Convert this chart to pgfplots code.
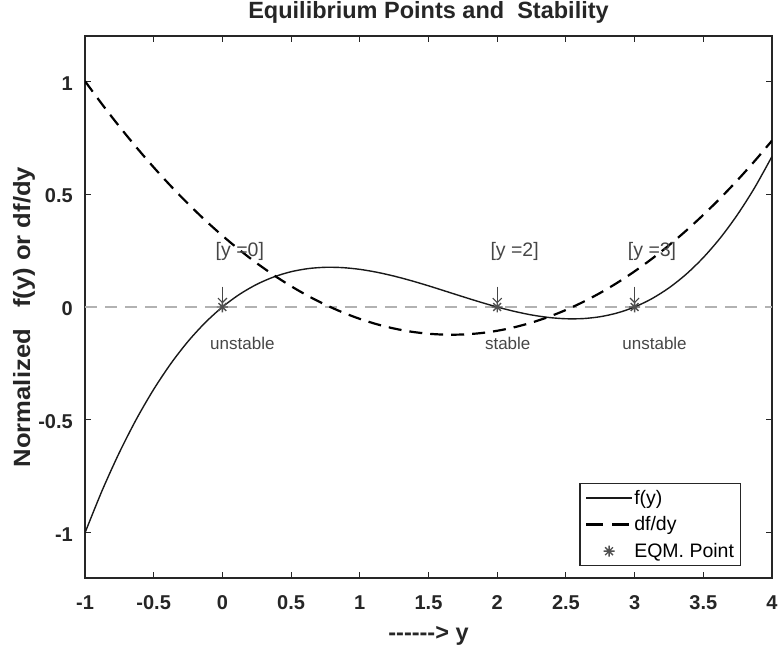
\documentclass[border=0pt]{standalone}
\usepackage{fontspec}
\setmainfont{Liberation Sans}
\usepackage{graphicx}
\usepackage{pgfplots}
\pgfplotsset{compat=1.18}
\usetikzlibrary{arrows.meta}
\definecolor{axgray}{RGB}{38,38,38}
\definecolor{zerogray}{RGB}{178,178,178}
\definecolor{mkgray}{RGB}{80,80,80}
\definecolor{txtgray}{RGB}{70,70,70}
\definecolor{fcol}{RGB}{25,25,25}
\newcommand\hy{\mbox{-}}
\pgfdeclareplotmark{ast8}{%
  \pgfpathmoveto{\pgfpoint{-\pgfplotmarksize}{0pt}}\pgfpathlineto{\pgfpoint{\pgfplotmarksize}{0pt}}%
  \pgfpathmoveto{\pgfpoint{0pt}{-\pgfplotmarksize}}\pgfpathlineto{\pgfpoint{0pt}{\pgfplotmarksize}}%
  \pgfpathmoveto{\pgfpoint{-0.707\pgfplotmarksize}{-0.707\pgfplotmarksize}}\pgfpathlineto{\pgfpoint{0.707\pgfplotmarksize}{0.707\pgfplotmarksize}}%
  \pgfpathmoveto{\pgfpoint{-0.707\pgfplotmarksize}{0.707\pgfplotmarksize}}\pgfpathlineto{\pgfpoint{0.707\pgfplotmarksize}{-0.707\pgfplotmarksize}}%
  \pgfusepathqstroke}
\pgfplotsset{dashleg/.style={legend image code/.code={\draw[##1, dash pattern=on 17bp off 9bp] (0bp,0bp) -- (43bp,0bp);}}}
\begin{document}
\begin{tikzpicture}
\path[use as bounding box] (0,0) rectangle (780bp,650bp);
\begin{axis}[
  at={(85bp,72bp)}, anchor=south west,
  width=687bp, height=542bp, scale only axis,
  xmin=-1, xmax=4, ymin=-1.2, ymax=1.2,
  xtick={-1,-0.5,0,0.5,1,1.5,2,2.5,3,3.5,4},
  xticklabels={-1,-0.5,0,0.5,1,1.5,2,2.5,3,3.5,4},
  ytick={-1,-0.5,0,0.5,1},
  yticklabels={-1,-0.5,0,0.5,1},
  tick pos=both, tick align=inside,
  major tick length=6bp,
  tick style={axgray, line width=1bp},
  axis line style={axgray, line width=1.2bp},
  xticklabel style={anchor=base, inner sep=0pt, yshift=-31bp, font=\fontsize{20bp}{24bp}\selectfont\bfseries, text=axgray},
  yticklabel style={anchor=east, inner sep=0pt, xshift=-12bp, yshift=-2bp, font=\fontsize{20bp}{24bp}\selectfont\bfseries, text=axgray},
  title={Equilibrium Points and\ \ Stability},
  title style={at={(0.5,1)}, anchor=base, yshift=12bp, font=\fontsize{23.5bp}{28bp}\selectfont\bfseries, text=axgray},
  xlabel={\hy\hy\hy\hy\hy\hy> y},
  xlabel style={at={(axis description cs:0.5,0)}, anchor=base, yshift=-62bp, font=\fontsize{23.5bp}{28bp}\selectfont\bfseries, text=axgray},
  ylabel={\scalebox{1.09}[1]{Normalized\ \ \ f(y) or df/dy}},
  ylabel style={at={(axis description cs:-0.0888,0.4815)}, anchor=center, font=\fontsize{23.5bp}{28bp}\selectfont\bfseries, text=axgray},
  legend style={at={(0.955,0.022)}, anchor=south east, draw=axgray, line width=1.2bp, fill=white,
    font=\fontsize{19.5bp}{23bp}\selectfont, text=black, cells={anchor=west},
    inner xsep=5bp, inner ysep=4bp, row sep=6bp, nodes={inner xsep=1.5bp, inner ysep=2.5bp}},
  legend image code/.code={\draw[mark repeat=2,mark phase=2,#1] plot coordinates {(0bp,0bp) (23bp,0bp) (46bp,0bp)};},
]
\addplot[forget plot, zerogray, line width=1.3bp, dash pattern=on 12bp off 8bp] coordinates {(-1,0) (4,0)};
\addplot[fcol, line width=1.4bp, smooth] coordinates {
(-1,-1.0000) (-0.875,-0.8123) (-0.75,-0.6445) (-0.625,-0.4956) (-0.5,-0.3646) (-0.375,-0.2505)
(-0.25,-0.1523) (-0.125,-0.0692) (0,0) (0.125,0.0562) (0.25,0.1003) (0.375,0.1333)
(0.5,0.1563) (0.625,0.1701) (0.75,0.1758) (0.875,0.1743) (1,0.1667) (1.125,0.1538)
(1.25,0.1367) (1.375,0.1164) (1.5,0.0938) (1.625,0.0698) (1.75,0.0456) (1.875,0.0220)
(2,0) (2.125,-0.0194) (2.25,-0.0352) (2.375,-0.0464) (2.5,-0.0521) (2.625,-0.0513)
(2.75,-0.0430) (2.875,-0.0262) (3,0) (3.125,0.0366) (3.25,0.0846) (3.375,0.1450)
(3.5,0.2188) (3.625,0.3068) (3.75,0.4102) (3.875,0.5298) (4,0.6667)};
\addlegendentry{f(y)}
\addplot[black, line width=2.2bp, dash pattern=on 13bp off 8bp, smooth, dashleg] coordinates {
(-1,1.0000) (-0.875,0.8972) (-0.75,0.7993) (-0.625,0.7064) (-0.5,0.6184) (-0.375,0.5354)
(-0.25,0.4572) (-0.125,0.3840) (0,0.3158) (0.125,0.2525) (0.25,0.1941) (0.375,0.1406)
(0.5,0.0921) (0.625,0.0485) (0.75,0.0099) (0.875,-0.0238) (1,-0.0526) (1.125,-0.0765)
(1.25,-0.0954) (1.375,-0.1094) (1.5,-0.1184) (1.625,-0.1225) (1.75,-0.1217) (1.875,-0.1160)
(2,-0.1053) (2.125,-0.0896) (2.25,-0.0691) (2.375,-0.0436) (2.5,-0.0132) (2.625,0.0222)
(2.75,0.0625) (2.875,0.1077) (3,0.1579) (3.125,0.2130) (3.25,0.2730) (3.375,0.3380)
(3.5,0.4079) (3.625,0.4827) (3.75,0.5625) (3.875,0.6472) (4,0.7368)};
\addlegendentry{df/dy}
\addplot[only marks, mark=ast8, mark size=5.5bp, mkgray, mark options={line width=1.4bp}] coordinates {(0,0) (2,0) (3,0)};
\addlegendentry{EQM. Point}
% annotations
\node[anchor=west, inner sep=0pt, text=txtgray, font=\fontsize{19.5bp}{23bp}\selectfont] at (axis cs:-0.05,0.245) {[y =0]};
\node[anchor=west, inner sep=0pt, text=txtgray, font=\fontsize{19.5bp}{23bp}\selectfont] at (axis cs:1.95,0.245) {[y =2]};
\node[anchor=west, inner sep=0pt, text=txtgray, font=\fontsize{19.5bp}{23bp}\selectfont] at (axis cs:2.95,0.245) {[y =3]};
\draw[txtgray, line width=1.1bp, -{Straight Barb[length=4.5bp, width=9bp]}] (axis cs:0,0.09) -- (axis cs:0,0.016);
\draw[txtgray, line width=1.1bp, -{Straight Barb[length=4.5bp, width=9bp]}] (axis cs:2,0.09) -- (axis cs:2,0.016);
\draw[txtgray, line width=1.1bp, -{Straight Barb[length=4.5bp, width=9bp]}] (axis cs:3,0.09) -- (axis cs:3,0.016);
\node[anchor=west, inner sep=0pt, text=txtgray, font=\fontsize{17bp}{20bp}\selectfont] at (axis cs:-0.09,-0.16) {unstable};
\node[anchor=west, inner sep=0pt, text=txtgray, font=\fontsize{17bp}{20bp}\selectfont] at (axis cs:1.91,-0.16) {stable};
\node[anchor=west, inner sep=0pt, text=txtgray, font=\fontsize{17bp}{20bp}\selectfont] at (axis cs:2.91,-0.16) {unstable};
\end{axis}
\end{tikzpicture}
\end{document}
